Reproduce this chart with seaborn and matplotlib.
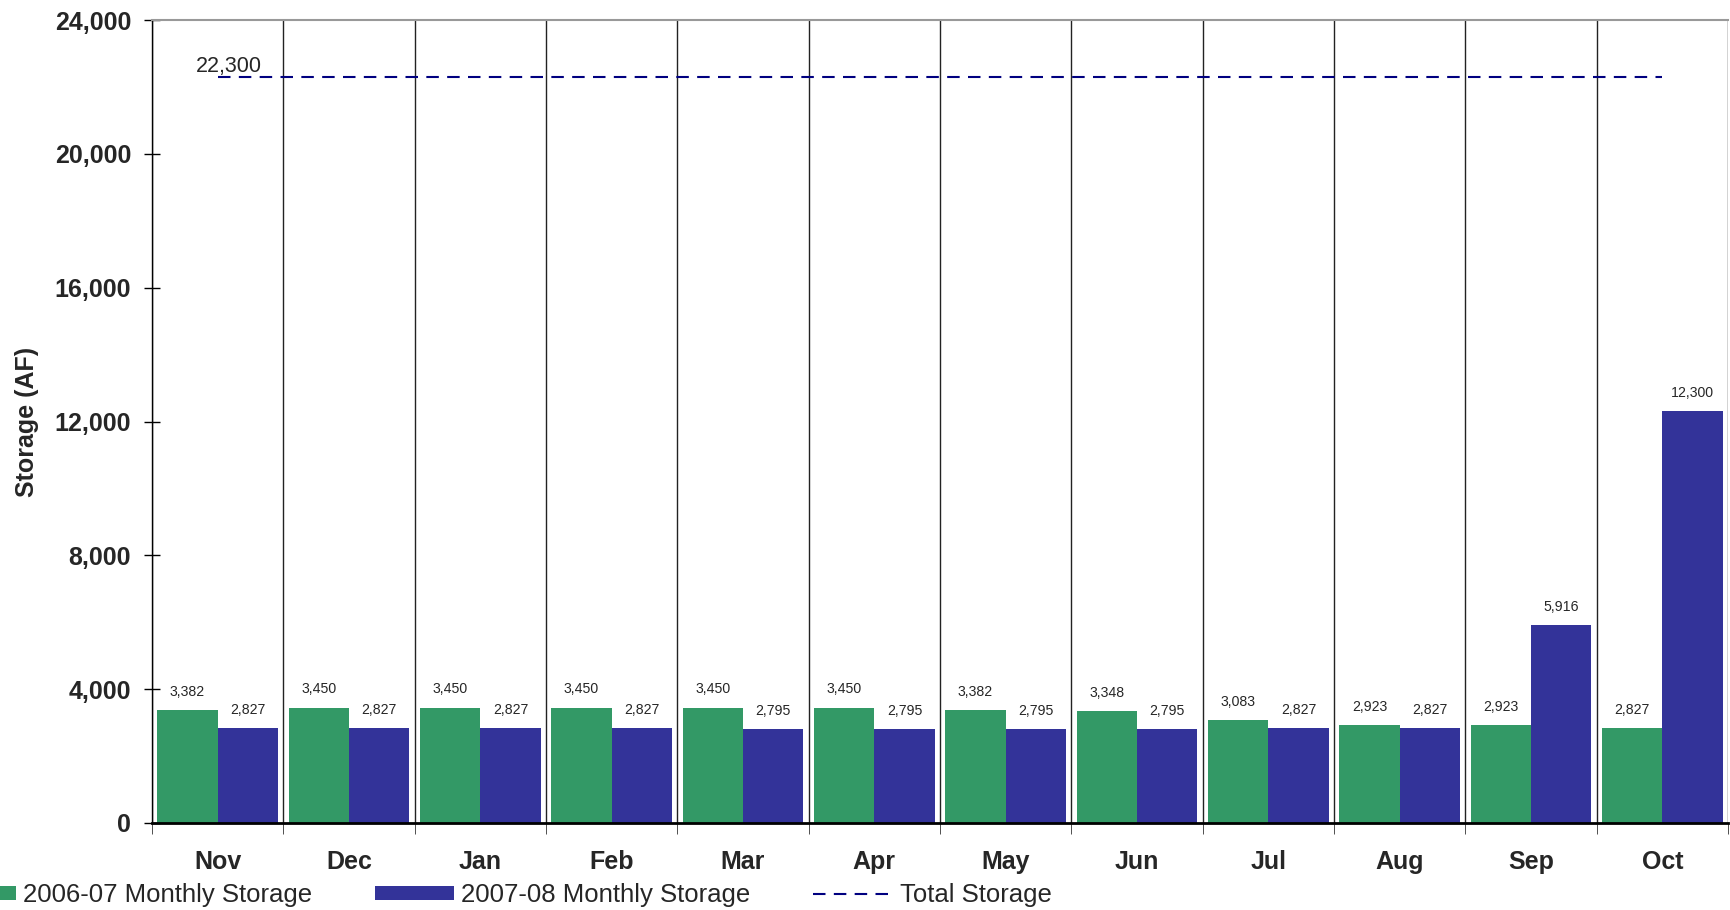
import numpy as np
import pandas as pd
import matplotlib.pyplot as plt
import seaborn as sns
from matplotlib.ticker import FuncFormatter

# Dados
months = ['Nov', 'Dec', 'Jan', 'Feb', 'Mar', 'Apr', 'May', 'Jun', 'Jul', 'Aug', 'Sep', 'Oct']
storage_2006_07 = [3382, 3450, 3450, 3450, 3450, 3450, 3382, 3348, 3083, 2923, 2923, 2827]
storage_2007_08 = [2827, 2827, 2827, 2827, 2795, 2795, 2795, 2795, 2827, 2827, 5916, 12300]
total_storage = [22300] * 12
series_names = ['2006-07 Monthly Storage', '2007-08 Monthly Storage']
colors = ['#339966', '#333399']

df = pd.DataFrame({
    'month': months * 2,
    'serie': [series_names[0]] * len(months) + [series_names[1]] * len(months),
    'storage': storage_2006_07 + storage_2007_08,
})

sns.set_style('white')
plt.rcParams['font.family'] = ['Liberation Sans', 'DejaVu Sans']

fig = plt.figure(figsize=(17.3, 9.1), dpi=100)
ax = fig.add_axes([152 / 1730, 1 - 823 / 910, (1728 - 152) / 1730, (823 - 20) / 910])

sns.barplot(data=df, x='month', y='storage', hue='serie', palette=colors,
            width=0.92, gap=0, saturation=1, linewidth=0, ax=ax)

# Linha de armazenamento total
sns.lineplot(x=np.arange(len(months)), y=total_storage, color='#000080',
             linestyle=(0, (6, 4)), linewidth=1.5, label='Total Storage', ax=ax)

for container in ax.containers:
    ax.bar_label(container, fmt='{:,.0f}', padding=8, fontsize=10.2)

ax.annotate(f'{total_storage[0]:,}', xy=(0, total_storage[0]), xytext=(31.5, 0),
            textcoords='offset points', ha='right', va='bottom', fontsize=15.5)

# Eixos
ax.set_xlim(-0.5, len(months) - 0.5)
ax.set_ylim(0, 24000)
ax.set_yticks(range(0, 24001, 4000))
ax.yaxis.set_major_formatter(FuncFormatter(lambda v, p: f'{v:,.0f}'))
ax.set_xticks(np.arange(-0.5, len(months), 1), minor=True)
ax.grid(which='minor', axis='x', color='#222222', linewidth=1)
ax.grid(which='major', axis='both', visible=False)

ax.tick_params(axis='x', which='major', length=0, pad=19.5, labelsize=18)
ax.tick_params(axis='x', which='minor', bottom=True, length=8, direction='out', color='#333333')
ax.tick_params(axis='y', left=True, direction='inout', length=12, width=1, pad=9,
               labelsize=18, color='black')
for lbl in ax.get_xticklabels() + ax.get_yticklabels():
    lbl.set_fontweight('bold')

ax.spines['left'].set_color('black')
ax.spines['left'].set_linewidth(1)
ax.spines['bottom'].set_color('black')
ax.spines['bottom'].set_linewidth(2)
ax.spines['top'].set_color('#999999')
ax.spines['top'].set_linewidth(1.5)
ax.spines['right'].set_visible(False)

ax.set_xlabel('')
ax.set_ylabel('Storage (AF)', fontsize=18, fontweight='bold', labelpad=11)

# Legenda embaixo
handles, labels = ax.get_legend_handles_labels()
ax.get_legend().remove()
fig.legend(handles, labels, loc='center left', bbox_to_anchor=(-64 / 1730, 1 - 895 / 910),
           ncol=3, frameon=False, fontsize=18.5, handlelength=3.1, handleheight=0.5,
           handletextpad=0.27, columnspacing=2.45, borderpad=0, borderaxespad=0)

fig.savefig('out.png', dpi=100)
